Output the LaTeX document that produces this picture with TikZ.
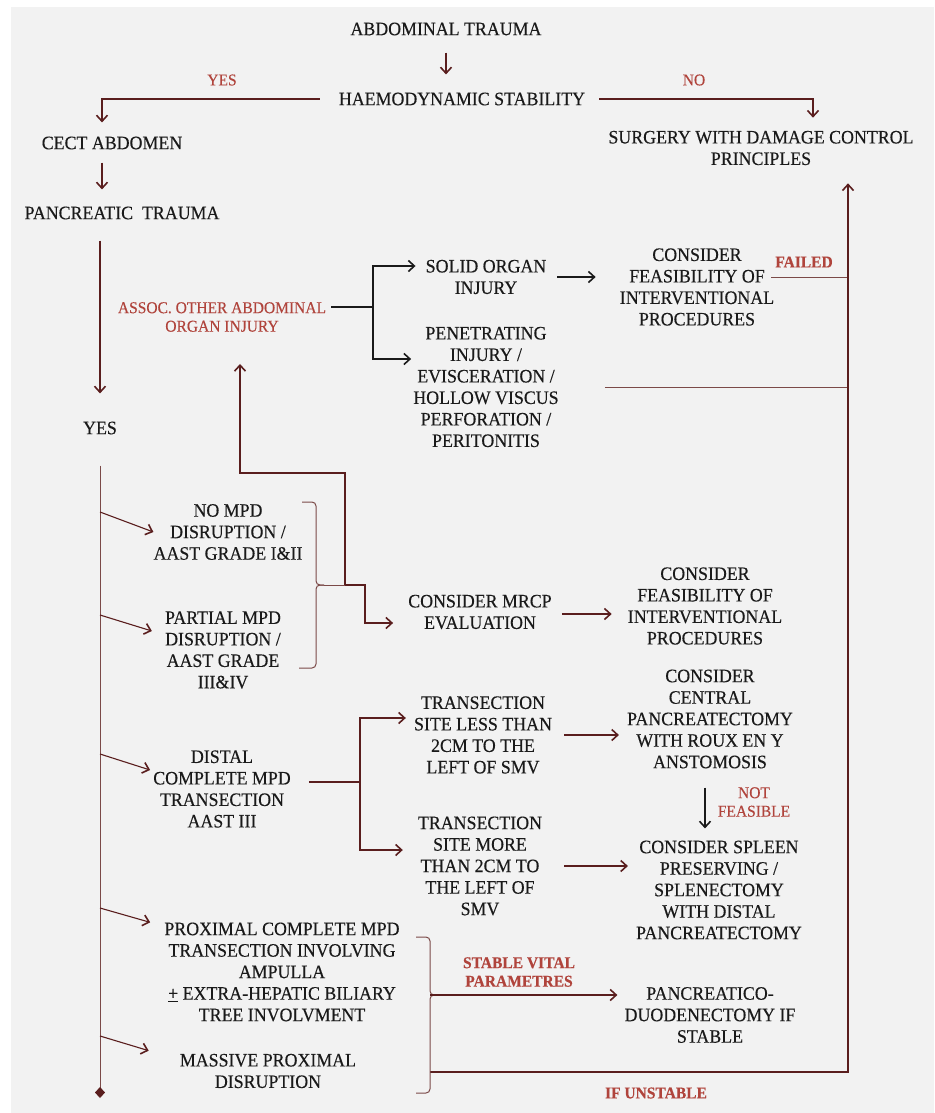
\documentclass[tikz,border=0pt]{standalone}
\usepackage{fontspec}
\setmainfont{Liberation Serif}[FakeStretch=0.94, FakeBold=0.3]
\usetikzlibrary{arrows.meta,calc}
\definecolor{bgray}{HTML}{F2F2F2}
\definecolor{maroon}{HTML}{5A1E1E}
\definecolor{rust}{HTML}{7B4A48}
\definecolor{lbl}{HTML}{B0443C}
\definecolor{ink}{HTML}{1A1A1A}
\begin{document}
\begin{tikzpicture}[x=1pt, y=-1pt,
  every node/.style={inner sep=0pt, align=center, text=ink, font=\fontsize{19}{21.5}\selectfont},
  lab/.style={text=lbl, font=\fontsize{16.5}{18.5}\selectfont},
  blab/.style={text=lbl, font=\fontsize{16.5}{18.5}\selectfont\bfseries},
  barbtip/.style={-{Straight Barb[length=6pt,width=11pt,line width=1.6pt]}},
  arrowline/.style={draw=maroon, line width=1.1pt, barbtip},
  railline/.style={draw=rust, line width=1pt},
  blackline/.style={draw=ink, line width=1.1pt},
  blackarrow/.style={blackline, barbtip},
]
\useasboundingbox (0,0) rectangle (934,1113);
\fill[white] (0,0) rectangle (934,1113);
\fill[bgray] (11,7) rectangle (934,1113);

% top of the chart
\node (abd) at (446,29) {ABDOMINAL TRAUMA};
\node (haemo) at (462,99) {HAEMODYNAMIC STABILITY};
\node[lab] (yesA) at (222,80) {YES};
\node[lab] (noA) at (694,80) {NO};
\node (cect) at (112,143) {CECT ABDOMEN};
\node (surg) at (761,148) {SURGERY WITH DAMAGE CONTROL\\PRINCIPLES};
\node (panc) at (122,213) {PANCREATIC\ \ TRAUMA};
\node (yes) at (100,428) {YES};

% other organs
\node[lab] (assoc) at (222,317) {ASSOC. OTHER ABDOMINAL\\ORGAN INJURY};
\node (solid) at (486,277) {SOLID ORGAN\\INJURY};
\node (feasA) at (697,287) {CONSIDER\\FEASIBILITY OF\\INTERVENTIONAL\\PROCEDURES};
\node[blab] (failed) at (804,262) {FAILED};
\node (pene) at (486,387) {PENETRATING\\INJURY /\\EVISCERATION /\\HOLLOW VISCUS\\PERFORATION /\\PERITONITIS};

% grades
\node (nompd) at (228,532) {NO MPD\\DISRUPTION /\\AAST GRADE I\&II};
\node (partial) at (223,650) {PARTIAL MPD\\DISRUPTION /\\AAST GRADE\\III\&IV};
\node (mrcp) at (480,612) {CONSIDER MRCP\\EVALUATION};
\node (feasB) at (705,606) {CONSIDER\\FEASIBILITY OF\\INTERVENTIONAL\\PROCEDURES};
\node (distal) at (222,789) {DISTAL\\COMPLETE MPD\\TRANSECTION\\AAST III};
\node (less) at (483,735) {TRANSECTION\\SITE LESS THAN\\2CM TO THE\\LEFT OF SMV};
\node (central) at (710,719) {CONSIDER\\CENTRAL\\PANCREATECTOMY\\WITH ROUX EN Y\\ANSTOMOSIS};
\node[lab] (notf) at (754,802) {NOT\\FEASIBLE};
\node (more) at (480,866) {TRANSECTION\\SITE MORE\\THAN 2CM TO\\THE LEFT OF\\SMV};
\node (spleen) at (719,890) {CONSIDER SPLEEN\\PRESERVING /\\SPLENECTOMY\\WITH DISTAL\\PANCREATECTOMY};
\node (prox) at (282,972) {PROXIMAL COMPLETE MPD\\TRANSECTION INVOLVING\\AMPULLA\\\underline{+}\ EXTRA-HEPATIC BILIARY\\TREE INVOLVMENT};
\node (massive) at (268,1071) {MASSIVE PROXIMAL\\DISRUPTION};
\node[blab] (stable) at (519,972) {STABLE VITAL\\PARAMETRES};
\node (pd) at (710,1015) {PANCREATICO-\\DUODENECTOMY IF\\STABLE};
\node[blab] (unstable) at (656,1093) {IF UNSTABLE};

% junctions
\coordinate (b1) at (100,512);
\coordinate (b2) at (100,615);
\coordinate (b3) at (100,754);
\coordinate (b4) at (100,908);
\coordinate (b5) at (100,1036);
\coordinate (bot) at (100,1098);
\coordinate (ja) at (373,307);
\coordinate (br1) at (316,585);
\coordinate (ja2) at (345,585);
\coordinate (jd) at (360,782);
\coordinate (br2) at (430,995);
\coordinate (br2b) at (430,1072);
\coordinate (rail) at (848,1072);

\draw[arrowline, shorten <=17pt, shorten >=18pt] (abd.south) -- (abd.south |- haemo.north);
\draw[arrowline, shorten <=19pt, shorten >=14pt] (haemo.west) -| ([xshift=-10pt]cect.north);
\draw[arrowline, shorten <=14pt, shorten >=13pt] (haemo.east) -| ([xshift=52pt]surg.north);
\draw[arrowline, shorten <=13pt, shorten >=17pt] ([xshift=-10pt]cect.south) -- ([xshift=-10pt]cect.south |- panc.north);
\draw[arrowline, shorten <=21pt, shorten >=28pt] (yes.north |- panc.south) -- (yes.north);
\draw[railline, -{Diamond[length=11pt,width=10pt,fill=maroon,color=maroon]}, shorten <=31pt] (yes.south) -- (bot);

\draw[arrowline] (b1) -- (nompd.west);
\draw[arrowline] (b2) -- ([xshift=-13pt,yshift=19pt]partial.west);
\draw[arrowline] (b3) -- ([xshift=-3pt,yshift=19pt]distal.west);
\draw[arrowline] (b4) -- ([xshift=-14pt]prox.north west);
\draw[arrowline] (b5) -- ([xshift=-31pt,yshift=3pt]massive.north west);

\draw[blackline, shorten <=5pt] ([yshift=10pt]assoc.east) -- (ja);
\draw[blackarrow] (ja) |- ([xshift=-10pt,yshift=11pt]solid.west);
\draw[blackarrow, shorten >=2pt] (ja) |- ([yshift=28pt]pene.west);
\draw[blackarrow, shorten <=11pt, shorten >=24pt] (solid.east) -- (solid.east -| feasA.west);
\draw[railline, shorten <=-3pt] ([yshift=10pt]feasA.east) -- ([yshift=10pt]feasA.east -| rail);
\draw[railline, shorten <=46pt] (pene.east) -- (pene.east -| rail);
\draw[arrowline, shorten >=18pt] (br2b) -- (rail) -- (rail |- surg.south);

\draw[railline, rounded corners=4pt] (br1) ++(-14,-83) -| (br1) -- ++(8,0);
\draw[railline, rounded corners=4pt] ([xshift=8pt]br1) -| ++(-8,83) -- ++(-17,0);
\draw[railline] ([xshift=8pt]br1) -- (ja2);
\draw[arrowline, shorten >=2pt] (ja2) -- ++(20,0) |- ([xshift=-13pt,yshift=-11pt]mrcp.west);
\draw[arrowline, shorten >=32pt] (ja2) -- ++(0,-112) -| ([xshift=18pt]assoc.south);
\draw[arrowline, shorten <=10pt, shorten >=16pt] ([yshift=-2pt]mrcp.east) -- ([yshift=-2pt]mrcp.east -| feasB.west);

\draw[arrowline, -, shorten <=18pt] ([yshift=7pt]distal.east) -- (jd);
\draw[arrowline, shorten >=8pt] (jd) |- ([yshift=17pt]less.west);
\draw[arrowline, shorten >=15pt] (jd) |- ([yshift=16pt]more.west);
\draw[arrowline, shorten <=12pt, shorten >=8pt] (less.east) -- (less.east -| central.west);
\draw[blackarrow, shorten <=19pt, shorten >=12pt] ([xshift=-5pt]central.south) -- ([xshift=-5pt]central.south |- spleen.north);
\draw[arrowline, shorten <=22pt, shorten >=8pt] (more.east) -- (more.east -| spleen.west);

\draw[railline, rounded corners=4pt] (br2) ++(-14,-58) -| (br2) -- ++(8,0);
\draw[railline, rounded corners=4pt] ([xshift=8pt]br2) -| ++(-8,98) -- ++(-14,0);
\draw[arrowline, shorten >=7pt] (br2) -- (br2 -| pd.west);
\end{tikzpicture}
\end{document}
